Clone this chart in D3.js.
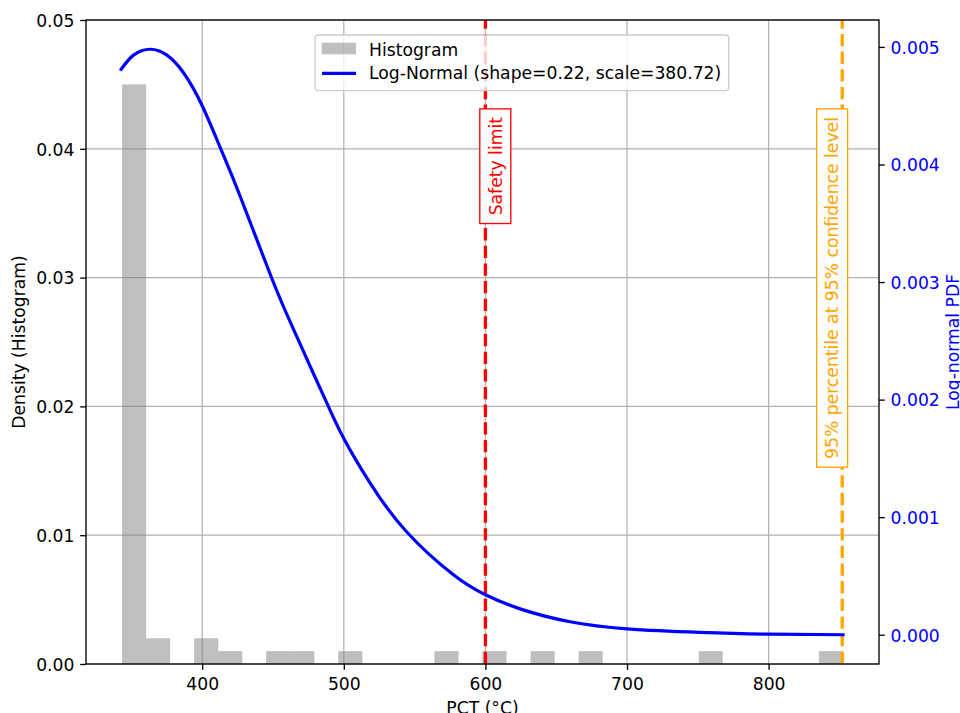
<!DOCTYPE html>
<html><head><meta charset="utf-8">
<script src="https://cdn.jsdelivr.net/npm/d3@7"></script>
<style>
body{margin:0;background:#fff}
svg{display:block}
text{font-family:"DejaVu Sans",sans-serif}
</style>
</head><body>
<svg id="chart" width="960" height="713"></svg>
<script>
// ---- data ----
const binEdges = [343.4, 360.4, 377.3, 394.3, 411.3, 428.3, 445.2, 462.2, 479.2, 496.1,
  513.1, 530.1, 547.0, 564.0, 581.0, 597.9, 614.9, 631.9, 648.9, 665.8,
  682.8, 699.8, 716.7, 733.7, 750.7, 767.6, 784.6, 801.6, 818.5, 835.5, 852.5];
const histDensity = [0.0450, 0.0020, 0, 0.0020, 0.0010, 0, 0.0010, 0.0010, 0, 0.0010,
  0, 0, 0, 0.0010, 0, 0.0010, 0, 0.0010, 0, 0.0010,
  0, 0, 0, 0, 0.0010, 0, 0, 0, 0, 0.0010];
const curveX = [342.8, 351.5, 363.3, 375.1, 386.8, 400.0, 413.2, 426.8, 449.2, 464.4,
  478.6, 489.2, 500.0, 518.6, 544.0, 577.4, 600.0, 624.5, 659.8, 700.0, 751.5, 800.0, 852.5];
const curvePdf = [0.00481, 0.00493, 0.00498, 0.00493, 0.00478, 0.00450, 0.00413, 0.00373, 0.00303, 0.00260,
  0.00222, 0.00194, 0.00167, 0.00129, 0.00088, 0.00051, 0.00034, 0.00022, 0.00011, 0.00005, 0.00002, 0.000005, 0.0];
const xTicks = [400, 500, 600, 700, 800];
const yLeftTicks = [0, 0.01, 0.02, 0.03, 0.04, 0.05];
const yRightTicks = [0, 0.001, 0.002, 0.003, 0.004, 0.005];
const safetyLimit = 600;
const percentile95 = 852.0;
const annotTopY = 0.0431;
const xLabel = "PCT (°C)";
const yLeftLabel = "Density (Histogram)";
const yRightLabel = "Log-normal PDF";
const legendLabels = ["Histogram", "Log-Normal (shape=0.22, scale=380.72)"];
const safetyText = "Safety limit";
const p95Text = "95% percentile at 95% confidence level";

// ---- layout ----
const L = 86, R = 879, T = 20, B = 664;
const FS = 17.2;
const svg = d3.select("#chart");

const span = binEdges[binEdges.length - 1] - binEdges[0];
const x = d3.scaleLinear()
  .domain([binEdges[0] - 0.05 * span, binEdges[binEdges.length - 1] + 0.05 * span])
  .range([L, R]);
const yL = d3.scaleLinear().domain([0, 0.05]).range([B, T]);
const ext = d3.extent(curvePdf);
const padR = 0.05 * (ext[1] - ext[0]);
const yR = d3.scaleLinear().domain([ext[0] - padR, ext[1] + padR]).range([B, T]);

svg.append("defs").append("clipPath").attr("id", "clip")
  .append("rect").attr("x", L).attr("y", T).attr("width", R - L).attr("height", B - T);

// grid
const grid = svg.append("g").attr("stroke", "#b0b0b0").attr("stroke-width", 1.2);
grid.selectAll("line.v").data(xTicks).join("line")
  .attr("x1", d => x(d)).attr("x2", d => x(d)).attr("y1", T).attr("y2", B);
grid.selectAll("line.h").data(yLeftTicks).join("line")
  .attr("x1", L).attr("x2", R).attr("y1", d => yL(d)).attr("y2", d => yL(d));

const plot = svg.append("g").attr("clip-path", "url(#clip)");

// histogram
const bins = histDensity.map((d, i) => ({x0: binEdges[i], x1: binEdges[i + 1], d}));
plot.append("g").selectAll("rect").data(bins.filter(b => b.d > 0)).join("rect")
  .attr("x", b => x(b.x0)).attr("width", b => x(b.x1) - x(b.x0))
  .attr("y", b => yL(b.d)).attr("height", b => B - yL(b.d))
  .attr("fill", "#808080").attr("fill-opacity", 0.5);

// vertical dashed lines
const lw = 3.33;
function vline(v, color) {
  plot.append("line").attr("x1", x(v)).attr("x2", x(v)).attr("y1", B).attr("y2", T)
    .attr("stroke", color).attr("stroke-width", lw)
    .attr("stroke-dasharray", (3.7 * lw) + "," + (1.6 * lw));
}
vline(safetyLimit, "#ff0000");
vline(percentile95, "#ffa500");

// curve
const pts = curveX.map((v, i) => [v, curvePdf[i]]);
plot.append("path").datum(pts)
  .attr("d", d3.line().x(d => x(d[0])).y(d => yR(d[1])).curve(d3.curveNatural))
  .attr("fill", "none").attr("stroke", "#0000ff").attr("stroke-width", 3.2)
  .attr("stroke-linecap", "square");

// annotation boxes
function annot(cx, txt, color) {
  const g = svg.append("g");
  const rect = g.append("rect");
  const yTop = yL(annotTopY);
  const pad = 8.2;
  const t = g.append("text")
    .attr("transform", `translate(${cx},${yTop + pad}) rotate(-90)`)
    .attr("text-anchor", "end").attr("dy", "0.36em")
    .attr("font-size", FS).attr("fill", color).text(txt);
  const len = t.node().getComputedTextLength();
  rect.attr("x", cx - 15.5).attr("width", 31).attr("y", yTop).attr("height", len + 2 * pad)
    .attr("fill", "#fff").attr("stroke", color).attr("stroke-width", 1.33);
}
annot(x(safetyLimit) + 9.9, safetyText, "#ff0000");
annot(x(percentile95) - 10.1, p95Text, "#ffa500");

// axes
function styleAxis(g, color) {
  g.attr("font-size", FS).attr("font-family", "DejaVu Sans");
  g.select(".domain").remove();
  g.selectAll(".tick line").attr("stroke", "#000").attr("stroke-width", 1.33);
  g.selectAll(".tick text").attr("fill", color);
}
const gx = svg.append("g").attr("transform", `translate(0,${B})`)
  .call(d3.axisBottom(x).tickValues(xTicks).tickFormat(d3.format("d")).tickSize(5.8).tickPadding(5.8));
styleAxis(gx, "#000");
gx.selectAll(".tick text").attr("y", 25.8).attr("dy", 0);

const gyl = svg.append("g").attr("transform", `translate(${L},0)`)
  .call(d3.axisLeft(yL).tickValues(yLeftTicks).tickFormat(d3.format(".2f")).tickSize(5.8).tickPadding(5.8));
styleAxis(gyl, "#000");
gyl.selectAll(".tick text").attr("dy", "0.37em");

const gyr = svg.append("g").attr("transform", `translate(${R},0)`)
  .call(d3.axisRight(yR).tickValues(yRightTicks).tickFormat(d3.format(".3f")).tickSize(5.8).tickPadding(5.8));
styleAxis(gyr, "#0000ff");
gyr.selectAll(".tick text").attr("dy", "0.37em");

// spines
svg.append("rect").attr("x", L).attr("y", T).attr("width", R - L).attr("height", B - T)
  .attr("fill", "none").attr("stroke", "#000").attr("stroke-width", 1.33);

// axis labels
svg.append("text").attr("x", (L + R) / 2).attr("y", 714).attr("text-anchor", "middle")
  .attr("font-size", FS).attr("fill", "#000").text(xLabel);
svg.append("text").attr("transform", `translate(25,${(T + B) / 2}) rotate(-90)`)
  .attr("text-anchor", "middle").attr("font-size", FS).attr("fill", "#000").text(yLeftLabel);
svg.append("text").attr("transform", `translate(959,${(T + B) / 2}) rotate(-90)`)
  .attr("text-anchor", "middle").attr("font-size", FS).attr("fill", "#0000ff").text(yRightLabel);

// legend
const lg = svg.append("g");
const lbox = lg.append("rect");
const lx = 315, ly = 35, tx = 369;
const texts = legendLabels.map((s, i) => lg.append("text").attr("x", tx).attr("y", 55.7 + i * 23.3)
  .attr("font-size", FS).attr("fill", "#000").text(s));
const maxLen = d3.max(texts, t => t.node().getComputedTextLength());
lbox.attr("x", lx).attr("y", ly).attr("width", tx + maxLen + 7.5 - lx).attr("height", 55.7)
  .attr("rx", 3.4).attr("fill", "#fff").attr("fill-opacity", 0.8)
  .attr("stroke", "#cccccc").attr("stroke-width", 1.33);
lg.append("rect").attr("x", 321.7).attr("y", 42.7).attr("width", 34.3).attr("height", 11.6)
  .attr("fill", "#808080").attr("fill-opacity", 0.5);
lg.append("line").attr("x1", 322).attr("x2", 356).attr("y1", 73.3).attr("y2", 73.3)
  .attr("stroke", "#0000ff").attr("stroke-width", 3.2);
</script>
</body></html>
